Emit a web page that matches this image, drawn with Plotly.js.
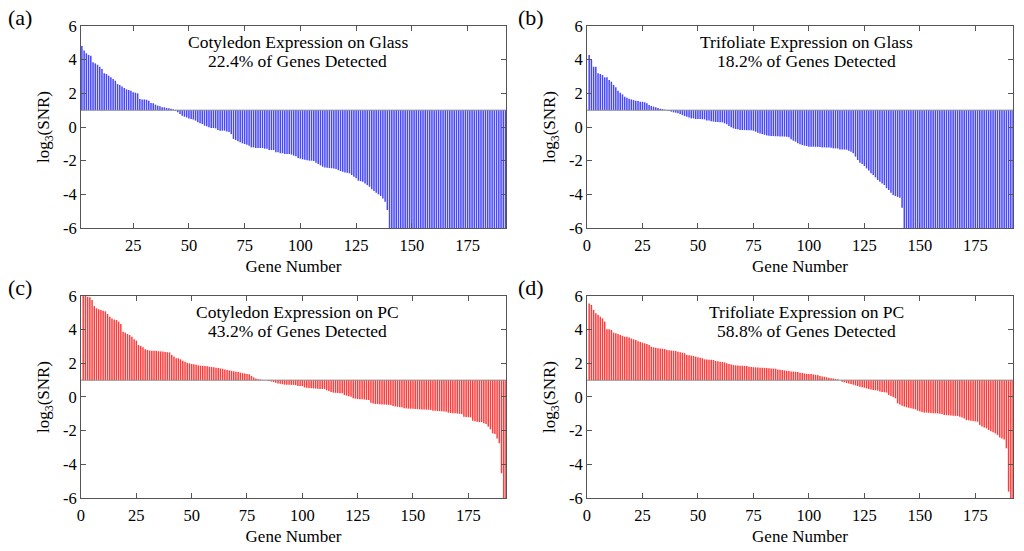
<!DOCTYPE html>
<html>
<head>
<meta charset="utf-8">
<script src="https://cdn.plot.ly/plotly-3.0.1.min.js"></script>
<style>html,body{margin:0;padding:0;background:#fff;}#chart{width:1024px;height:551px;}</style>
</head>
<body>
<div id="chart"></div>
<script>
const THRESHOLD = 1;

const cotyledonGlass = [
4.90,4.81,4.54,4.38,4.28,4.24,3.84,3.78,3.70,3.58,
3.45,3.19,3.15,3.05,2.95,2.85,2.75,2.55,2.50,2.40,
2.32,2.24,2.20,2.16,2.06,2.04,2.00,1.66,1.64,1.64,
1.62,1.56,1.43,1.41,1.33,1.27,1.23,1.17,1.17,1.13,
1.11,1.09,1.05,0.95,0.87,0.77,0.67,0.61,0.57,0.51,
0.48,0.44,0.38,0.28,0.22,0.18,0.08,0.04,-0.02,-0.06,
-0.06,-0.08,-0.18,-0.22,-0.22,-0.22,-0.26,-0.30,-0.42,-0.71,
-0.77,-0.85,-0.91,-0.97,-1.01,-1.05,-1.11,-1.21,-1.21,-1.25,
-1.25,-1.25,-1.25,-1.29,-1.29,-1.37,-1.37,-1.37,-1.50,-1.50,
-1.56,-1.56,-1.60,-1.60,-1.60,-1.64,-1.70,-1.74,-1.84,-1.88,
-1.92,-1.94,-1.98,-2.00,-2.00,-2.02,-2.12,-2.20,-2.28,-2.36,
-2.40,-2.42,-2.44,-2.45,-2.46,-2.50,-2.56,-2.62,-2.66,-2.70,
-2.72,-2.75,-2.85,-2.95,-3.05,-3.19,-3.22,-3.25,-3.35,-3.45,
-3.55,-3.70,-3.80,-3.90,-4.00,-4.10,-4.24,-4.44,-4.93,-6,
-6,-6,-6,-6,-6,-6,-6,-6,-6,-6,
-6,-6,-6,-6,-6,-6,-6,-6,-6,-6,
-6,-6,-6,-6,-6,-6,-6,-6,-6,-6,
-6,-6,-6,-6,-6,-6,-6,-6,-6,-6,
-6,-6,-6,-6,-6,-6,-6,-6,-6,-6,
-6,-6
];

const trifoliateGlass = [
4.28,3.98,3.58,3.58,3.19,3.15,3.09,2.95,2.95,2.79,
2.69,2.50,2.36,2.16,2.04,1.94,1.80,1.74,1.68,1.64,
1.60,1.56,1.54,1.50,1.50,1.47,1.41,1.31,1.25,1.21,
1.17,1.13,1.09,1.07,1.03,0.97,0.95,0.91,0.87,0.85,
0.81,0.77,0.71,0.65,0.61,0.57,0.51,0.51,0.47,0.47,
0.47,0.46,0.45,0.38,0.38,0.34,0.32,0.30,0.30,0.28,
0.28,0.22,0.16,0.06,-0.02,-0.08,-0.12,-0.14,-0.18,-0.18,
-0.18,-0.19,-0.19,-0.20,-0.22,-0.28,-0.34,-0.38,-0.42,-0.46,
-0.50,-0.52,-0.54,-0.54,-0.55,-0.55,-0.56,-0.56,-0.57,-0.58,
-0.61,-0.73,-0.81,-0.87,-0.97,-1.03,-1.07,-1.11,-1.13,-1.17,
-1.17,-1.17,-1.18,-1.18,-1.19,-1.21,-1.21,-1.22,-1.22,-1.23,
-1.27,-1.27,-1.28,-1.33,-1.33,-1.34,-1.35,-1.41,-1.47,-1.56,
-1.76,-1.96,-2.12,-2.20,-2.32,-2.46,-2.59,-2.75,-2.85,-2.99,
-3.15,-3.25,-3.35,-3.45,-3.64,-3.74,-3.90,-4.04,-4.10,-4.15,
-4.20,-4.80,-6,-6,-6,-6,-6,-6,-6,-6,
-6,-6,-6,-6,-6,-6,-6,-6,-6,-6,
-6,-6,-6,-6,-6,-6,-6,-6,-6,-6,
-6,-6,-6,-6,-6,-6,-6,-6,-6,-6,
-6,-6,-6,-6,-6,-6,-6,-6,-6,-6,
-6,-6
];

const cotyledonPC = [
6.00,6.00,5.95,5.92,5.76,5.40,5.27,5.21,5.17,5.13,
5.09,4.93,4.77,4.67,4.61,4.57,4.48,4.34,3.88,3.82,
3.74,3.68,3.58,3.43,3.35,3.09,3.03,2.95,2.83,2.79,
2.76,2.75,2.75,2.74,2.72,2.71,2.70,2.67,2.66,2.65,
2.50,2.40,2.30,2.30,2.24,2.16,2.10,2.04,2.00,1.96,
1.94,1.92,1.88,1.86,1.85,1.84,1.82,1.80,1.78,1.76,
1.74,1.72,1.70,1.67,1.64,1.60,1.58,1.56,1.53,1.50,
1.48,1.45,1.42,1.39,1.36,1.35,1.25,1.17,1.10,1.05,
1.04,1.02,1.01,0.98,0.95,0.92,0.88,0.85,0.80,0.78,
0.76,0.73,0.73,0.73,0.72,0.72,0.71,0.65,0.65,0.64,
0.57,0.55,0.53,0.52,0.51,0.50,0.49,0.48,0.48,0.47,
0.40,0.35,0.30,0.26,0.25,0.24,0.23,0.22,0.12,0.08,
0.05,0.02,-0.08,-0.10,-0.12,-0.13,-0.14,-0.15,-0.17,-0.18,
-0.34,-0.38,-0.42,-0.42,-0.43,-0.44,-0.45,-0.46,-0.47,-0.48,
-0.54,-0.56,-0.58,-0.60,-0.61,-0.67,-0.68,-0.69,-0.70,-0.70,
-0.71,-0.72,-0.73,-0.74,-0.75,-0.75,-0.76,-0.77,-0.81,-0.82,
-0.83,-0.84,-0.85,-0.86,-0.87,-0.93,-0.95,-0.96,-0.97,-0.98,
-1.00,-1.01,-1.17,-1.19,-1.20,-1.21,-1.41,-1.44,-1.47,-1.49,
-1.49,-1.56,-1.60,-1.76,-1.92,-2.16,-2.20,-2.46,-2.75,-4.53,
-6,-6
];

const trifoliatePC = [
5.56,5.47,5.17,4.97,4.87,4.77,4.67,4.48,4.02,4.02,
3.98,3.82,3.78,3.74,3.68,3.64,3.58,3.58,3.54,3.47,
3.43,3.39,3.31,3.27,3.23,3.19,3.15,3.09,2.99,2.95,
2.93,2.89,2.88,2.87,2.85,2.79,2.77,2.76,2.75,2.73,
2.69,2.66,2.63,2.60,2.50,2.48,2.46,2.44,2.40,2.36,
2.33,2.30,2.24,2.23,2.22,2.21,2.20,2.14,2.12,2.10,
2.08,2.06,2.00,1.96,1.93,1.90,1.88,1.87,1.86,1.86,
1.85,1.84,1.80,1.78,1.77,1.76,1.75,1.74,1.74,1.73,
1.72,1.71,1.70,1.69,1.68,1.64,1.62,1.60,1.58,1.56,
1.54,1.52,1.51,1.50,1.48,1.44,1.42,1.40,1.38,1.36,
1.36,1.34,1.32,1.30,1.25,1.22,1.20,1.17,1.15,1.12,
1.10,1.07,1.05,0.99,0.90,0.87,0.83,0.80,0.77,0.73,
0.69,0.65,0.61,0.58,0.55,0.51,0.47,0.45,0.42,0.40,
0.38,0.32,0.30,0.28,0.26,0.12,0.06,0.00,-0.08,-0.38,
-0.45,-0.52,-0.57,-0.61,-0.64,-0.67,-0.70,-0.73,-0.81,-0.85,
-0.89,-0.93,-0.93,-0.94,-0.95,-0.96,-0.97,-0.98,-0.99,-1.01,
-1.07,-1.08,-1.09,-1.10,-1.11,-1.12,-1.13,-1.17,-1.22,-1.27,
-1.37,-1.39,-1.41,-1.43,-1.45,-1.47,-1.66,-1.76,-1.81,-1.86,
-1.96,-2.03,-2.10,-2.16,-2.26,-2.40,-2.46,-2.52,-3.05,-5.62,
-6,-6
];

const titleLine1 = [
  "Cotyledon Expression on Glass",
  "Trifoliate Expression on Glass",
  "Cotyledon Expression on PC",
  "Trifoliate Expression on PC"
];
const titleLine2 = [
  "22.4% of Genes Detected",
  "18.2% of Genes Detected",
  "43.2% of Genes Detected",
  "58.8% of Genes Detected"
];
const panelLetters = ["(a)", "(b)", "(c)", "(d)"];
const xTickVals = [0, 25, 50, 75, 100, 125, 150, 175];
const xTickLabels = ["0", "25", "50", "75", "100", "125", "150", "175"];
const yTickVals = [-6, -4, -2, 0, 2, 4, 6];
const yTickLabels = ["-6", "-4", "-2", "0", "2", "4", "6"];

const seriesList = [cotyledonGlass, trifoliateGlass, cotyledonPC, trifoliatePC];
const colors = ["rgb(70,70,255)", "rgb(70,70,255)", "rgb(255,60,60)", "rgb(255,60,60)"];
const xRanges = [[1.6, 192.2], [0, 192], [0, 192], [0, 192]];

const genes = cotyledonGlass.map((_, i) => i + 1);

const xDomains = [[0.0791, 0.4941], [0.5732, 0.9893], [0.0791, 0.4941], [0.5732, 0.9893]];
const yDomains = [[0.5862, 0.9528], [0.5862, 0.9528], [0.0962, 0.4628], [0.0962, 0.4628]];
const titleX = [0.51, 0.516, 0.51, 0.515];
const titleY = [[0.921, 0.827], [0.921, 0.827], [0.921, 0.825], [0.921, 0.825]];
const letterPos = [[0.020, 0.968], [0.519, 0.968], [0.020, 0.478], [0.519, 0.478]];

const FONT = "Liberation Serif";
const data = [];
const layout = {
  width: 1024, height: 551,
  margin: {l: 0, r: 0, t: 0, b: 0},
  paper_bgcolor: "#fff", plot_bgcolor: "#fff",
  showlegend: false,
  bargap: 0.32,
  font: {family: FONT, size: 16, color: "#000"},
  annotations: [], shapes: []
};

seriesList.forEach((vals, k) => {
  const n = k + 1;
  const xa = n === 1 ? "x" : "x" + n;
  const ya = n === 1 ? "y" : "y" + n;
  data.push({
    type: "bar", x: genes, y: vals.map(v => v - THRESHOLD), base: THRESHOLD,
    xaxis: xa, yaxis: ya,
    marker: {color: colors[k], line: {width: 0}},
    hoverinfo: "skip"
  });
  const axisCommon = {
    showgrid: false, zeroline: false, showline: true, mirror: "ticks",
    linecolor: "#555", linewidth: 1, ticks: "inside", ticklen: 5,
    tickcolor: "#555", tickfont: {family: FONT, size: 16.5, color: "#000"}
  };
  layout["xaxis" + (n === 1 ? "" : n)] = Object.assign({}, axisCommon, {
    domain: xDomains[k], anchor: ya, range: xRanges[k],
    tickmode: "array", tickvals: xTickVals, ticktext: xTickLabels,
    ticklabelstandoff: 2,
    title: {text: "Gene Number", font: {family: FONT, size: 17, color: "#000"}, standoff: 6}
  });
  layout["yaxis" + (n === 1 ? "" : n)] = Object.assign({}, axisCommon, {
    domain: yDomains[k], anchor: xa, range: [-6, 6],
    tickmode: "array", tickvals: yTickVals, ticktext: yTickLabels,
    title: {text: "log<sub>3</sub>(SNR)", font: {family: FONT, size: 17, color: "#000"}, standoff: 8}
  });
  layout.shapes.push({
    type: "line", xref: xa + " domain", yref: ya,
    x0: 0, x1: 1, y0: THRESHOLD, y1: THRESHOLD,
    line: {color: "#888", width: 1}
  });
  [titleLine1[k], titleLine2[k]].forEach((txt, j) => {
    layout.annotations.push({
      xref: xa + " domain", yref: ya + " domain", x: titleX[k], y: titleY[k][j],
      xanchor: "center", yanchor: "middle", showarrow: false, borderpad: 0,
      text: txt, font: {family: FONT, size: 17.5, color: "#000"}
    });
  });
  layout.annotations.push({
    xref: "paper", yref: "paper", x: letterPos[k][0], y: letterPos[k][1],
    xanchor: "center", yanchor: "middle", showarrow: false,
    text: panelLetters[k], font: {family: FONT, size: 22, color: "#000"}
  });
});

Plotly.newPlot("chart", data, layout, {displayModeBar: false, staticPlot: true});
</script>
</body>
</html>
